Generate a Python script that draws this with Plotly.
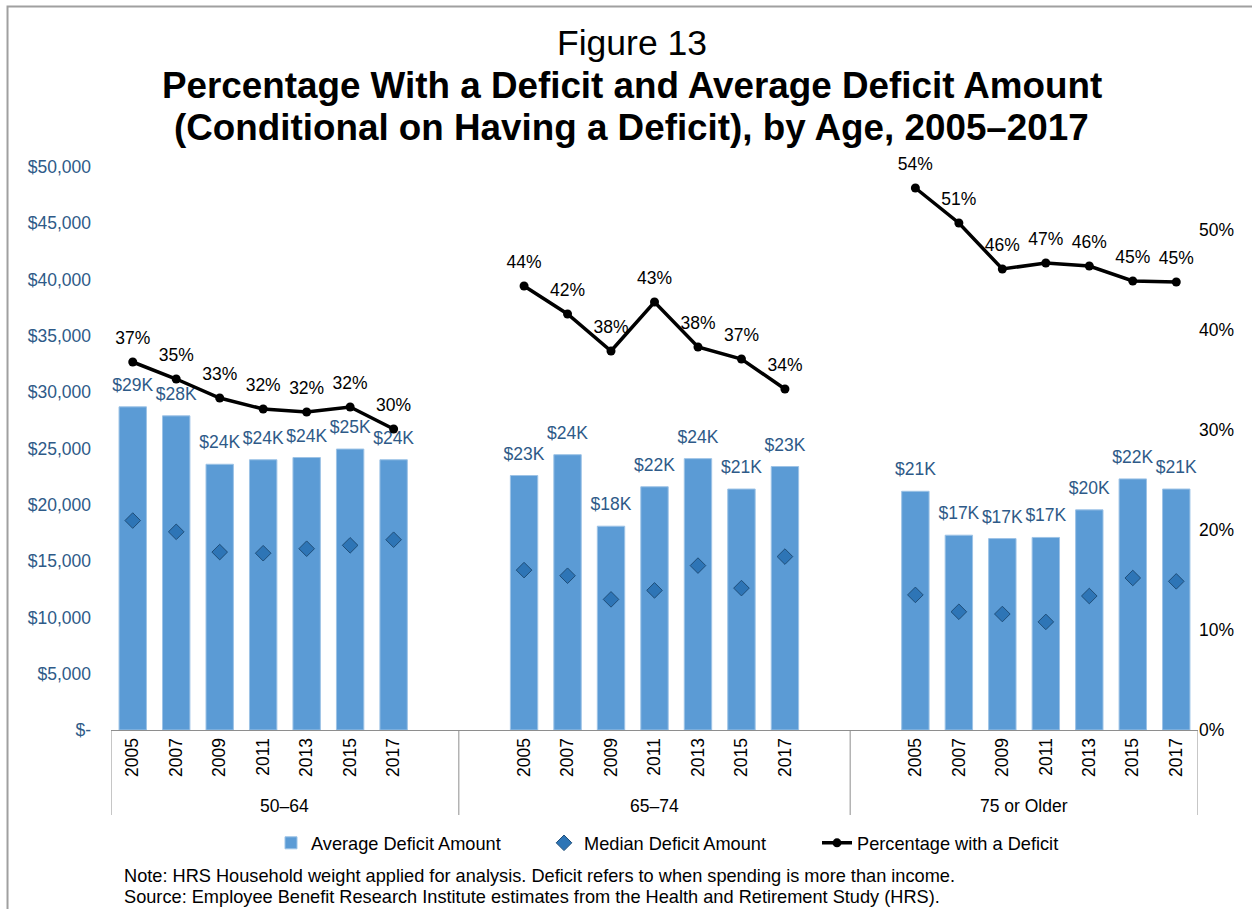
import plotly.graph_objects as go

# Survey years and age groups
years = ["2005", "2007", "2009", "2011", "2013", "2015", "2017"]
age_groups = ["50–64", "65–74", "75 or Older"]

# Average deficit amount (conditional on having a deficit), dollars
avg_50_64 = [28700, 27900, 23600, 24000, 24200, 24950, 24000]
avg_65_74 = [22600, 24450, 18100, 21600, 24100, 21400, 23400]
avg_75_up = [21200, 17300, 17000, 17100, 19550, 22300, 21400]

# Median deficit amount, dollars
med_50_64 = [18600, 17600, 15800, 15700, 16100, 16400, 16900]
med_65_74 = [14200, 13700, 11600, 12400, 14600, 12600, 15400]
med_75_up = [12000, 10500, 10300, 9600, 11900, 13500, 13200]

# Share of households with a deficit
pct_50_64 = [0.368, 0.351, 0.332, 0.321, 0.318, 0.323, 0.301]
pct_65_74 = [0.444, 0.416, 0.379, 0.428, 0.383, 0.371, 0.341]
pct_75_up = [0.542, 0.507, 0.461, 0.467, 0.464, 0.449, 0.448]

# Left and right axis ticks
dollar_ticks = [0, 5000, 10000, 15000, 20000, 25000, 30000, 35000, 40000, 45000, 50000]
pct_ticks = [0.0, 0.1, 0.2, 0.3, 0.4, 0.5]

FONT = "Liberation Sans, Arial, sans-serif"
BAR = "#5B9BD5"
DARK_BLUE = "#2E5A88"
GREY = "#8E8E8E"

avg_groups = [avg_50_64, avg_65_74, avg_75_up]
med_groups = [med_50_64, med_65_74, med_75_up]
pct_groups = [pct_50_64, pct_65_74, pct_75_up]

# Category slots on the x axis: each group has a blank slot between it and the next
group_start = [0, 9, 18]
group_bounds = [(-0.5, 7.5), (7.5, 16.5), (16.5, 24.5)]

x_all, avg_all, med_all = [], [], []
x_line, pct_line = [], []
for g in range(3):
    xs = [group_start[g] + i for i in range(len(years))]
    x_all += xs
    avg_all += avg_groups[g]
    med_all += med_groups[g]
    x_line += xs + [None]
    pct_line += pct_groups[g] + [None]

fig = go.Figure()

fig.add_trace(go.Bar(
    x=x_all, y=avg_all, name="Average Deficit Amount",
    width=0.63,
    marker=dict(color=BAR, line=dict(color="#9DC3E6", width=1)),
))

# value labels above the bars (transparent marker sets the gap above the bar top)
fig.add_trace(go.Scatter(
    x=x_all, y=avg_all, mode="markers+text", showlegend=False, hoverinfo="skip",
    marker=dict(size=17, opacity=0),
    text=[f"${round(v / 1000)}K" for v in avg_all],
    textposition="top center", cliponaxis=False,
    textfont=dict(family=FONT, size=17.5, color=DARK_BLUE),
))

fig.add_trace(go.Scatter(
    x=x_all, y=med_all, name="Median Deficit Amount", mode="markers",
    marker=dict(symbol="diamond", size=12, color="#2E75B6",
                line=dict(color="#1F4E79", width=1)),
))

fig.add_trace(go.Scatter(
    x=x_line, y=pct_line, name="Percentage with a Deficit", yaxis="y2",
    mode="lines+markers", connectgaps=False,
    line=dict(color="black", width=3.5),
    marker=dict(symbol="circle", size=9, color="black"),
))

# percentage labels above the line points
fig.add_trace(go.Scatter(
    x=x_line, y=pct_line, yaxis="y2", mode="markers+text",
    showlegend=False, hoverinfo="skip",
    marker=dict(size=21, opacity=0),
    text=[("" if v is None else f"{round(v * 100)}%") for v in pct_line],
    textposition="top center", cliponaxis=False,
    textfont=dict(family=FONT, size=17.5, color="black"),
))

year_vals = [group_start[g] + i for g in range(3) for i in range(len(years))]
year_text = years * 3

shapes = []
# outer chart frame
shapes.append(dict(type="rect", xref="paper", yref="paper",
                   x0=-0.0952, x1=1.08, y0=-0.36, y1=1.285,
                   line=dict(color="#A0A0A0", width=2), layer="below"))
# group bracket lines under the category axis
for x in [-0.5, 7.5, 16.5, 24.5]:
    shapes.append(dict(type="line", xref="x", yref="paper",
                       x0=x, x1=x, y0=0, y1=-0.151,
                       line=dict(color=GREY, width=1)))

annotations = []
for g, name in enumerate(age_groups):
    lo, hi = group_bounds[g]
    annotations.append(dict(text=name, x=(lo + hi) / 2, xref="x",
                            y=-0.135, yref="paper", showarrow=False,
                            xanchor="center", yanchor="middle",
                            font=dict(family=FONT, size=17.5, color="black")))

annotations += [
    dict(text="Figure 13", x=0.4793, y=1.2202, xref="paper", yref="paper",
         showarrow=False, xanchor="center", yanchor="middle",
         font=dict(family=FONT, size=35.5, color="black")),
    dict(text="<b>Percentage With a Deficit and Average Deficit Amount</b>",
         x=0.4793, y=1.1439, xref="paper", yref="paper",
         showarrow=False, xanchor="center", yanchor="middle",
         font=dict(family=FONT, size=36.8, color="black")),
    dict(text="<b>(Conditional on Having a Deficit), by Age, 2005–2017</b>",
         x=0.4793, y=1.0710, xref="paper", yref="paper",
         showarrow=False, xanchor="center", yanchor="middle",
         font=dict(family=FONT, size=36.8, color="black")),
    dict(text="Note: HRS Household weight applied for analysis. Deficit refers to when spending is more than income.",
         x=0.0101, y=-0.2593, xref="paper", yref="paper",
         showarrow=False, xanchor="left", yanchor="middle",
         font=dict(family=FONT, size=18.2, color="black")),
    dict(text="Source: Employee Benefit Research Institute estimates from the Health and Retirement Study (HRS).",
         x=0.0101, y=-0.2966, xref="paper", yref="paper",
         showarrow=False, xanchor="left", yanchor="middle",
         font=dict(family=FONT, size=18.2, color="black")),
]

fig.update_layout(
    width=1252, height=909,
    margin=dict(l=111, r=54, t=167, b=179),
    paper_bgcolor="white", plot_bgcolor="white",
    font=dict(family=FONT, size=17.5, color="black"),
    showlegend=True,
    legend=dict(orientation="h", x=0.1472, xanchor="left", y=-0.2007, yanchor="middle",
                font=dict(family=FONT, size=18.2, color="black"),
                entrywidth=228, entrywidthmode="pixels",
                bgcolor="rgba(0,0,0,0)"),
    xaxis=dict(range=[-0.5, 24.5], tickmode="array", tickvals=year_vals, ticktext=year_text,
               tickangle=-90, showgrid=False, zeroline=False,
               showline=True, linecolor=GREY, linewidth=1, ticks="",
               tickfont=dict(family=FONT, size=17.5, color="black")),
    yaxis=dict(range=[0, 50000], tickmode="array", tickvals=dollar_ticks,
               ticktext=[("$-" if v == 0 else f"${v:,}") for v in dollar_ticks],
               showgrid=False, zeroline=False, showline=False, ticks="",
               ticklabelstandoff=19,
               tickfont=dict(family=FONT, size=17.5, color=DARK_BLUE)),
    yaxis2=dict(range=[0, 0.563], overlaying="y", side="right", tickmode="array",
                tickvals=pct_ticks, tickformat=".0%",
                showgrid=False, zeroline=False, showline=False, ticks="",
                tickfont=dict(family=FONT, size=17.5, color="black")),
    shapes=shapes,
    annotations=annotations,
)

fig.write_html("out.html")
